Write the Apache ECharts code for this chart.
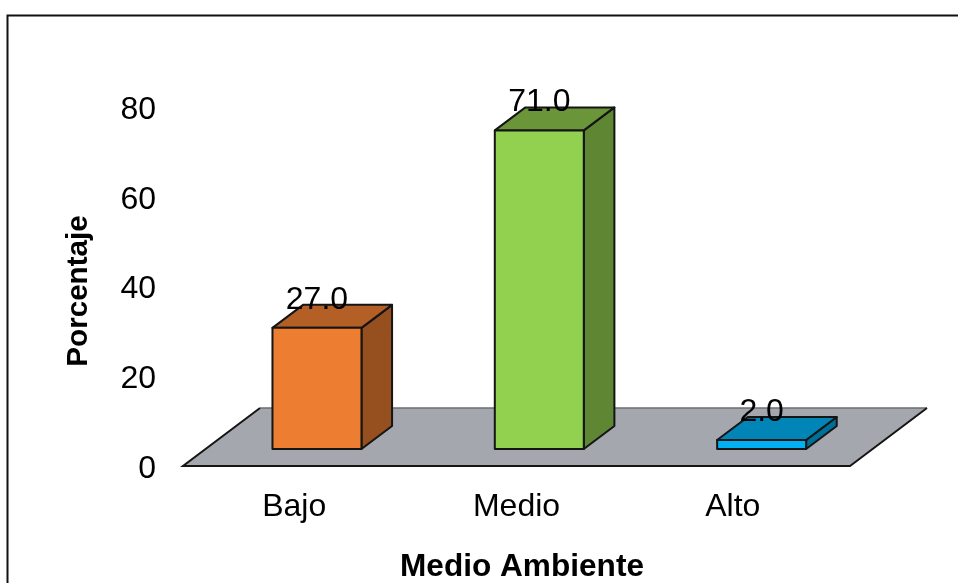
<!DOCTYPE html>
<html>
<head>
<meta charset="utf-8">
<script src="https://cdn.jsdelivr.net/npm/echarts@6/dist/echarts.min.js"></script>
<style>html,body{margin:0;padding:0;background:#fff}#c{width:958px;height:583px}</style>
</head>
<body>
<div id="c"></div>
<script>
const categories = ['Bajo', 'Medio', 'Alto'];
const values = [27.0, 71.0, 2.0];
const yTicks = [0, 20, 40, 60, 80];
const xTitle = 'Medio Ambiente';
const yTitle = 'Porcentaje';

const faces = [
  { front: '#ED7D31', top: '#B45F25', side: '#964F1F' },
  { front: '#92D050', top: '#6B9539', side: '#5F8633' },
  { front: '#00B0F0', top: '#0085B6', side: '#006F98' }
];
const FONT = '"Liberation Sans", Arial, sans-serif';
const EDGE = '#151515';
const DEPTH = { x: 30.6, y: -23 };
const SHIFT = { x: 22.8, y: -17 };
const FLOOR = { x: 77, y: -58 };
const BAR_W = 89;

function floorItem(params) {
  const c = params.coordSys;
  const b = c.y + c.height, l = c.x, r = c.x + c.width;
  const pts = [[l, b], [r, b], [r + FLOOR.x, b + FLOOR.y], [l + FLOOR.x, b + FLOOR.y]];
  return {
    type: 'group',
    children: [
      { type: 'polygon', shape: { points: pts }, style: { fill: '#A5A7AE', stroke: null } },
      { type: 'line', shape: { x1: pts[3][0], y1: pts[3][1], x2: pts[2][0], y2: pts[2][1] },
        style: { stroke: '#6b6c72', lineWidth: 1.5 } },
      { type: 'polyline', shape: { points: [pts[3], pts[0], pts[1], pts[2]] },
        style: { fill: null, stroke: EDGE, lineWidth: 2 } }
    ]
  };
}

function barItem(params, api) {
  const i = api.value(0);
  const base = api.coord([i, 0]);
  const topPt = api.coord([i, api.value(1)]);
  const x0 = base[0] + SHIFT.x - BAR_W / 2;
  const x1 = x0 + BAR_W;
  const yb = base[1] + SHIFT.y;
  const yt = topPt[1] + SHIFT.y;
  const dx = DEPTH.x, dy = DEPTH.y;
  const f = faces[i];
  const st = fill => ({ fill, stroke: EDGE, lineWidth: 2, lineJoin: 'round' });
  return {
    type: 'group',
    children: [
      { type: 'polygon', shape: { points: [[x1, yb], [x1 + dx, yb + dy], [x1 + dx, yt + dy], [x1, yt]] }, style: st(f.side) },
      { type: 'polygon', shape: { points: [[x0, yt], [x1, yt], [x1 + dx, yt + dy], [x0 + dx, yt + dy]] }, style: st(f.top) },
      { type: 'polygon', shape: { points: [[x0, yb], [x1, yb], [x1, yt], [x0, yt]] }, style: st(f.front) },
      { type: 'text', z2: 100, style: {
          x: (x0 + x1) / 2, y: yt - 28, text: api.value(1).toFixed(1),
          fill: '#000', font: '32px ' + FONT, textAlign: 'center', textVerticalAlign: 'middle' } }
    ]
  };
}

const chart = echarts.init(document.getElementById('c'), null, { renderer: 'canvas' });
chart.setOption({
  animation: false,
  backgroundColor: '#fff',
  graphic: [{
    type: 'rect', silent: true, z: -1,
    shape: { x: 7.5, y: 15.5, width: 1000, height: 620 },
    style: { fill: '#fff', stroke: '#111', lineWidth: 2 }
  }],
  grid: { left: 183, top: 107, width: 667, height: 359, containLabel: false, outerBoundsMode: 'none' },
  xAxis: {
    type: 'category',
    data: categories,
    axisLine: { show: false },
    axisTick: { show: false },
    axisLabel: {
      margin: 25, color: '#000', fontSize: 32, fontFamily: FONT,
      interval: 0,
      formatter: v => v === 'Alto' ? '{s|' + v + '}' : v,
      rich: { s: { fontSize: 32, fontFamily: FONT, color: '#000', padding: [0, 12, 0, 0] } }
    },
    name: xTitle,
    nameLocation: 'middle',
    nameGap: 85,
    nameTextStyle: { color: '#000', fontSize: 31.6, fontWeight: 'bold', fontFamily: FONT, padding: [0, 0, 0, 11] }
  },
  yAxis: {
    type: 'value',
    min: yTicks[0],
    max: yTicks[yTicks.length - 1],
    interval: yTicks[1] - yTicks[0],
    axisLine: { show: false },
    axisTick: { show: false },
    splitLine: { show: false },
    axisLabel: {
      margin: 27, color: '#000', fontSize: 32, fontFamily: FONT,
      formatter: v => '{n|' + v + '}',
      rich: { n: { fontSize: 32, fontFamily: FONT, color: '#000', padding: [6, 0, 0, 0] } }
    },
    name: yTitle,
    nameLocation: 'middle',
    nameGap: 89,
    nameRotate: 90,
    nameTextStyle: { color: '#000', fontSize: 29.6, fontWeight: 'bold', fontFamily: FONT, padding: [0, 9, 0, 0] }
  },
  series: [
    { type: 'custom', coordinateSystem: 'cartesian2d', z: 1, silent: true, renderItem: floorItem, data: [[0, 0]], encode: { x: 0, y: 1 }, clip: false },
    { type: 'custom', coordinateSystem: 'cartesian2d', z: 2, silent: true, renderItem: barItem,
      data: values.map((v, i) => [i, v]), encode: { x: 0, y: 1 }, clip: false }
  ]
});
</script>
</body>
</html>
